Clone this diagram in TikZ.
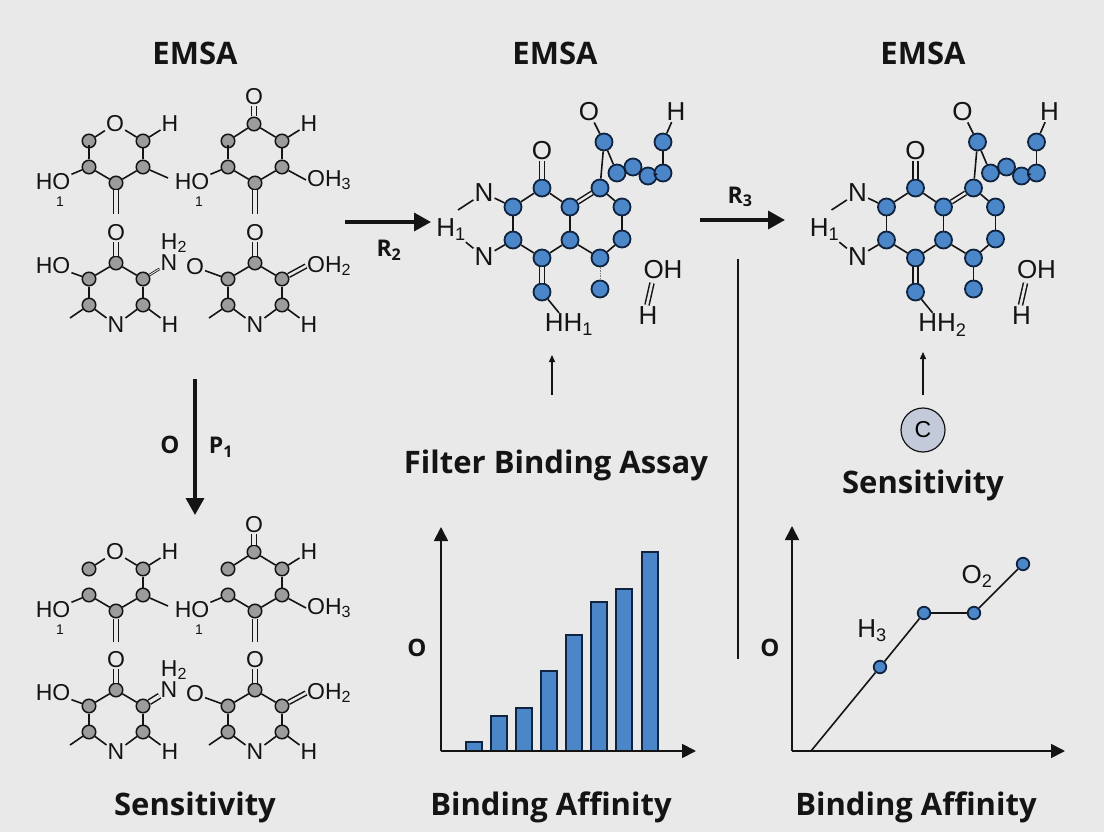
\documentclass[tikz,border=0pt]{standalone}
\usepackage{fontspec}
\setmainfont{Liberation Sans}
\newfontfamily\headfont{Open Sans}
\usetikzlibrary{arrows.meta}
\definecolor{paper}{HTML}{E9E9E9}
\definecolor{inkdark}{HTML}{141414}
\definecolor{atomgray}{HTML}{9C9C9C}
\definecolor{atomblue}{HTML}{4A86C8}
\definecolor{atomrim}{HTML}{10233F}
\definecolor{circlefill}{HTML}{C3CBDB}
\tikzset{
  heading/.style={font=\headfont\bfseries\fontsize{31}{34}\selectfont, text=inkdark, inner sep=0pt},
  atomtext/.style={font=\fontsize{23}{25}\selectfont, text=inkdark, inner sep=1pt},
  bluetext/.style={font=\fontsize{26}{28}\selectfont, text=inkdark, inner sep=1pt},
  smalltext/.style={font=\fontsize{14}{15}\selectfont, text=inkdark, inner sep=0pt},
  axistext/.style={font=\headfont\bfseries\fontsize{24}{26}\selectfont, text=inkdark, inner sep=0pt},
  rlabel/.style={font=\headfont\bfseries\fontsize{23}{25}\selectfont, text=inkdark, inner sep=1pt},
  grayatom/.style={circle, draw=inkdark, fill=atomgray, line width=1.5pt, minimum size=13.5pt, inner sep=0pt},
  blueatom/.style={circle, draw=atomrim, fill=atomblue, line width=1.8pt, minimum size=17pt, inner sep=0pt},
  bond/.style={inkdark, line width=1.6pt},
  dbond/.style={inkdark, line width=1.5pt, double=paper, double distance=3.4pt},
  tbond/.style={inkdark, line width=.8pt, double=paper, double distance=.9pt},
  fatarrow/.style={inkdark, line width=3.4pt, -{Triangle[length=17pt,width=18pt]}},
  thinarrow/.style={inkdark, line width=1.4pt, -{Triangle[length=7pt,width=6pt]}},
  axisline/.style={inkdark, line width=1.8pt, -{Triangle[length=14pt,width=14pt]}},
  chartbar/.style={draw=atomrim, fill=atomblue, line width=1.7pt},
  chartdot/.style={blueatom, minimum size=12.5pt},
}

% #1 prefix, #2 shift down, #3 length of stub, #4 style of the N bond, #5 lower row shift
\newcommand{\ringblock}[5]{
  \begin{scope}[shift={(0,#2)}, name prefix=#1]
    \foreach \side/\dx in {a/0,b/139}{
      \begin{scope}[shift={(\dx,0)}, name prefix=#1\side]
        \foreach \n/\x/\y in {ul/89/141,ur/143/141,ll/89/167,lr/143/167,bt/116/183}{
          \node[grayatom] (\n) at (\x,\y) {};
        }
        \coordinate (dbl) at (116,214);
        \coordinate (stub) at (89,{167-#3});
        \draw[bond] (ll) -- (stub);
        \draw[bond] (ll) -- (bt);
        \draw[bond] (bt) -- (lr);
        \draw[bond] (lr) -- (ur);
        \draw[dbond] (bt) -- (dbl);
        \node[atomtext] (hh) at (170,124) {H};
        \draw[bond] (ur) -- (hh);
        \node[smalltext] (one) at (60,202) {1};
        \node[atomtext] (ho) at (53,182) {HO};
        \draw[bond] (ll) -- (ho);
      \end{scope}
    }
    \node[atomtext] (aox) at (115,124) {O};
    \draw[bond] (aul) -- (aox);
    \draw[bond] (aur) -- (aox);
    \coordinate (atail) at (168,178);
    \draw[bond] (alr) -- (atail);
    \node[grayatom] (btop) at (254,124) {};
    \node[atomtext] (box) at (254,97) {O};
    \draw[dbond] (btop) -- (box);
    \draw[bond] (bul) -- (btop);
    \draw[bond] (bur) -- (btop);
    \node[atomtext, anchor=west] (boh) at (306,180) {OH\textsubscript{3}};
    \draw[bond] (blr) -- (boh.west);
  \end{scope}
  \begin{scope}[shift={(0,#2+#5)}, name prefix=#1]
    \foreach \side/\dx in {c/0,d/139}{
      \begin{scope}[shift={(\dx,0)}, name prefix=#1\side]
        \foreach \n/\x/\y in {tp/116/263,ul/89/279,ur/143/279,ll/89/305,lr/143/305}{
          \node[grayatom] (\n) at (\x,\y) {};
        }
        \node[atomtext] (ox) at (116,233) {O};
        \node[atomtext] (nn) at (116,325) {N};
        \node[atomtext] (hh) at (170,325) {H};
        \coordinate (tail) at (70,318);
        \draw[dbond] (tp) -- (ox);
        \draw[bond] (ul) -- (tp);
        \draw[bond] (tp) -- (ur);
        \draw[bond] (ul) -- (ll);
        \draw[bond] (ur) -- (lr);
        \draw[bond] (ll) -- (nn);
        \draw[bond] (lr) -- (nn);
        \draw[bond] (lr) -- (hh);
        \draw[bond] (ll) -- (tail);
      \end{scope}
    }
    \node[atomtext] (cho) at (53,266) {HO};
    \draw[bond] (cul) -- (cho);
    \node[atomtext] (cnn) at (169,263) {N};
    \node[atomtext] (chh) at (174,243) {H\textsubscript{2}};
    \draw[#4] (cur) -- (cnn);
    \node[atomtext] (dox) at (195,267) {O};
    \draw[bond] (dul) -- (dox);
    \node[atomtext, anchor=west] (doh) at (306,266) {OH\textsubscript{2}};
    \draw[dbond, double distance=2.6pt] (dur) -- (doh.west);
  \end{scope}
}

% #1 prefix, #2 shift right, #3 label under the ring, #4 look of the lowest bond
\newcommand{\blueblock}[4]{
  \begin{scope}[shift={(#2,0)}, name prefix=#1]
    \foreach \n/\x/\y in {aa/604/142,ab/617/173,ac/633/167,ad/648/176,ae/663/173,af/663/142,
                          ct/600/188,cu/542/188,lu/513/207,ll/513/240,cl/542/258,
                          mu/570/207,ml/570/240,ru/622/207,rl/622/239,lo/600/258,
                          dt/600/289,dn/542/292}{
      \node[blueatom] (\n) at (\x,\y) {};
    }
    \node[bluetext] (oa) at (589,112) {O};
    \node[bluetext] (ha) at (676,112) {H};
    \node[bluetext] (ob) at (542,151) {O};
    \node[bluetext] (nu) at (484,193) {N};
    \node[bluetext] (nl) at (484,257) {N};
    \node[bluetext] (hone) at (451,230) {H\textsubscript{1}};
    \node[bluetext] (hh) at (569,325) {#3};
    \node[bluetext] (oh) at (663,270) {OH};
    \node[bluetext] (hb) at (648,316) {H};
    \coordinate (nustub) at (458,210);
    \draw[bond] (oa) -- (aa);
    \draw[bond] (ha) -- (af);
    \draw[bond] (aa) -- (ct);
    \draw[bond] (aa) -- (ab);
    \draw[bond] (ab) -- (ac);
    \draw[bond] (ac) -- (ad);
    \draw[bond] (ad) -- (ae);
    \draw[bond] (ae) -- (af);
    \draw[dbond] (ob) -- (cu);
    \draw[bond] (lu) -- (cu);
    \draw[bond] (cu) -- (mu);
    \draw[dbond, double distance=2.4pt] (mu) -- (ct);
    \draw[bond] (ct) -- (ru);
    \draw[bond] (ru) -- (rl);
    \draw[bond] (rl) -- (lo);
    \draw[bond] (lo) -- (ml);
    \draw[bond] (ml) -- (mu);
    \draw[bond] (ml) -- (cl);
    \draw[bond] (cl) -- (ll);
    \draw[bond] (ll) -- (lu);
    \draw[dbond] (cl) -- (dn);
    \draw[bond] (dn) -- (hh);
    \draw[bond] (nu) -- (lu);
    \draw[bond] (nl) -- (ll);
    \draw[bond] (nu) -- (nustub);
    \draw[bond] (hone) -- (nl);
    \draw[#4] (lo) -- (dt);
    \coordinate (ohfoot) at (652,283);
    \coordinate (hbhead) at (647,305);
    \draw[dbond, double distance=2.6pt] (ohfoot) -- (hbhead);
  \end{scope}
}

\begin{document}
\begin{tikzpicture}[x=1pt, y=-1pt]

  \def\lowerblock{428}
  \useasboundingbox (0,0) rectangle (1104,832);
  \fill[paper] (0,0) rectangle (1104,832);

  \foreach \n/\x/\y/\txt in {eA/195/53/EMSA, eB/555/53/EMSA, eC/923/53/EMSA,
                             fb/556/465/Filter Binding Assay, sA/923/485/Sensitivity,
                             sB/195/807/Sensitivity, bA/551/807/Binding Affinity, bB/916/807/Binding Affinity}{
    \node[heading] (\n) at (\x,\y) {\txt};
  }

  \ringblock{top}{0}{22}{tbond}{0}
  \ringblock{low}{\lowerblock}{6}{dbond}{-1}

  \blueblock{mid}{0}{HH\textsubscript{1}}{bond, densely dotted, line width=.5pt, gray}
  \blueblock{right}{373.5}{HH\textsubscript{2}}{bond}

  % arrows of the reaction
  \coordinate (rtwoa) at (345,222);
  \coordinate (rtwob) at (431,222);
  \coordinate (rthreea) at (700,220);
  \coordinate (rthreeb) at (785,220);
  \coordinate (pdowna) at (195,379);
  \coordinate (pdownb) at (195,515);
  \draw[fatarrow] (rtwoa) -- (rtwob);
  \draw[fatarrow] (rthreea) -- (rthreeb);
  \draw[fatarrow] (pdowna) -- (pdownb);
  \node[rlabel] (rtwo) at (389,250) {R\textsubscript{2}};
  \node[rlabel] (rthree) at (740,197) {R\textsubscript{3}};
  \node[axistext] (pO) at (170,445) {O};
  \node[rlabel] (pone) at (221,447) {P\textsubscript{1}};

  \coordinate (fbfoot) at (552,395);
  \coordinate (fbtip) at (552,355);
  \draw[thinarrow] (fbfoot) -- (fbtip);

  \node[circle, draw=inkdark, fill=circlefill, line width=1.2pt, minimum size=44pt, inner sep=0pt,
        font=\fontsize{23}{25}\selectfont] (cc) at (923,430) {C};
  \coordinate (cctip) at (923,352);
  \coordinate (ccfoot) at (923,395);
  \draw[thinarrow] (ccfoot) -- (cctip);

  \coordinate (sepa) at (738,259);
  \coordinate (sepb) at (738,659);
  \draw[inkdark, line width=1.8pt] (sepa) -- (sepb);

  % bar chart
  \coordinate (barzero) at (441,751);
  \coordinate (bartop) at (441,527);
  \coordinate (barend) at (696,751);
  \foreach \xa/\xb/\ytop in {466/482/742, 491/507/716, 516/532/708, 541/557/671,
                             566/582/635, 591/607/602, 616/632/589, 642/658/552}{
    \draw[chartbar] (\xa,751) rectangle (\xb,\ytop);
  }
  \draw[axisline] (barzero) -- (bartop);
  \draw[axisline] (barzero) -- (barend);
  \node[axistext] (barO) at (417,648) {O};

  % line chart
  \coordinate (linezero) at (792,751);
  \coordinate (linetop) at (792,526);
  \coordinate (lineend) at (1065,751);
  \coordinate (linestart) at (811,751);
  \draw[axisline] (linezero) -- (linetop);
  \draw[axisline] (linezero) -- (lineend);
  \foreach \n/\x/\y in {pa/880/667, pb/924/613, pc/974/613, pd/1023/564}{
    \node[chartdot] (\n) at (\x,\y) {};
  }
  \draw[bond] (linestart) -- (pa);
  \draw[bond] (pa) -- (pb);
  \draw[bond] (pb) -- (pc);
  \draw[bond] (pc) -- (pd);
  \node[axistext] (lineO) at (770,648) {O};
  \node[bluetext] (lineH) at (872,631) {H\textsubscript{3}};
  \node[bluetext] (lineOtwo) at (977,576) {O\textsubscript{2}};

\end{tikzpicture}
\end{document}
